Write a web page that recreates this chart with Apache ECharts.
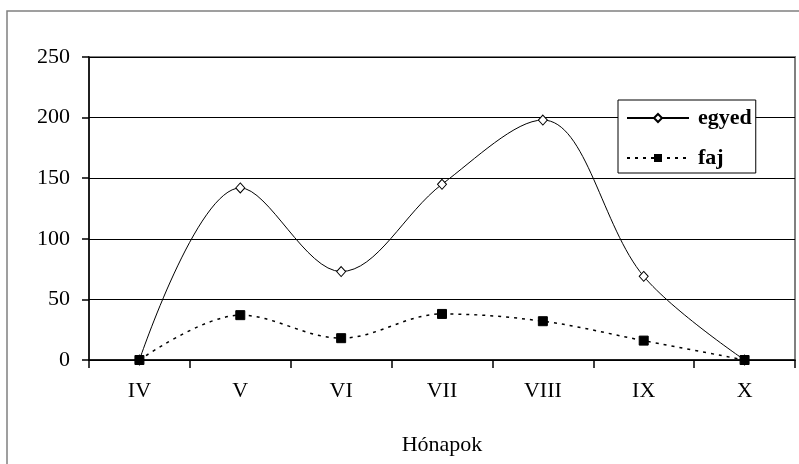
<!DOCTYPE html>
<html>
<head>
<meta charset="utf-8">
<script src="https://cdn.jsdelivr.net/npm/echarts@6/dist/echarts.min.js"></script>
<style>
html, body { margin: 0; padding: 0; background: #fff; }
#chart { width: 799px; height: 464px; }
</style>
</head>
<body>
<div id="chart"></div>
<script>
// honapok (kategoriak) es a ket sorozat
var months = ['IV', 'V', 'VI', 'VII', 'VIII', 'IX', 'X'];
var egyed = [0, 142, 73, 145, 198, 69, 0];
var faj = [0, 37, 18, 38, 32, 16, 0];
var yTicks = [0, 50, 100, 150, 200, 250];

var serif = '"Liberation Serif", "DejaVu Serif", serif';

var chart = echarts.init(document.getElementById('chart'));
var option = {
	animation: false,
	backgroundColor: '#fff',
	textStyle: { fontFamily: serif },
	// kulso keret
	graphic: [{
		type: 'rect',
		shape: { x: 7, y: 11, width: 800, height: 460 },
		style: { fill: 'none', stroke: '#808080', lineWidth: 1.5 },
		silent: true
	}],
	grid: {
		left: 89,
		right: 4,
		top: 57,
		bottom: 104,
		show: true,
		borderColor: '#808080',
		borderWidth: 2
	},
	legend: {
		orient: 'vertical',
		left: 618,
		top: 100,
		padding: [7, 4, 4, 8],
		itemGap: 18,
		itemWidth: 62,
		itemHeight: 10,
		backgroundColor: '#fff',
		borderColor: '#000',
		borderWidth: 1,
		textStyle: { fontFamily: serif, fontSize: 22, fontWeight: 'bold', color: '#000', padding: [0, 0, 0, 4], lineHeight: 22 },
		data: ['egyed', 'faj']
	},
	xAxis: {
		type: 'category',
		data: months,
		boundaryGap: true,
		name: 'Hónapok',
		nameLocation: 'middle',
		nameGap: 74,
		nameTextStyle: { fontFamily: serif, fontSize: 22, color: '#000' },
		axisLine: { lineStyle: { color: '#000', width: 1.5 } },
		axisTick: { show: true, length: 8, lineStyle: { color: '#000', width: 1.5 } },
		axisLabel: { fontFamily: serif, fontSize: 22, color: '#000', margin: 20 }
	},
	yAxis: {
		type: 'value',
		min: 0,
		max: 250,
		interval: 50,
		axisLine: { show: true, lineStyle: { color: '#000', width: 1.5 } },
		axisTick: { show: true, length: 7, lineStyle: { color: '#000', width: 1.5 } },
		axisLabel: {
			fontFamily: serif, fontSize: 22, color: '#000', margin: 19,
			formatter: function (v) { return yTicks.indexOf(v) >= 0 ? String(v) : ''; }
		},
		splitLine: { show: true, lineStyle: { color: '#000', width: 1.2 } }
	},
	series: [{
		name: 'egyed',
		type: 'line',
		data: egyed,
		smooth: 0.35,
		symbol: 'diamond',
		symbolSize: [9, 10],
		lineStyle: { color: '#000', width: 1 },
		itemStyle: { color: '#fff', borderColor: '#000', borderWidth: 1 },
		z: 3
	}, {
		name: 'faj',
		type: 'line',
		data: faj,
		smooth: 0.35,
		symbol: 'rect',
		symbolSize: 9,
		lineStyle: { color: '#000', width: 1.5, type: [3, 5] },
		itemStyle: { color: '#000', borderColor: '#000' },
		z: 4
	}]
};
chart.setOption(option);
</script>
</body>
</html>
